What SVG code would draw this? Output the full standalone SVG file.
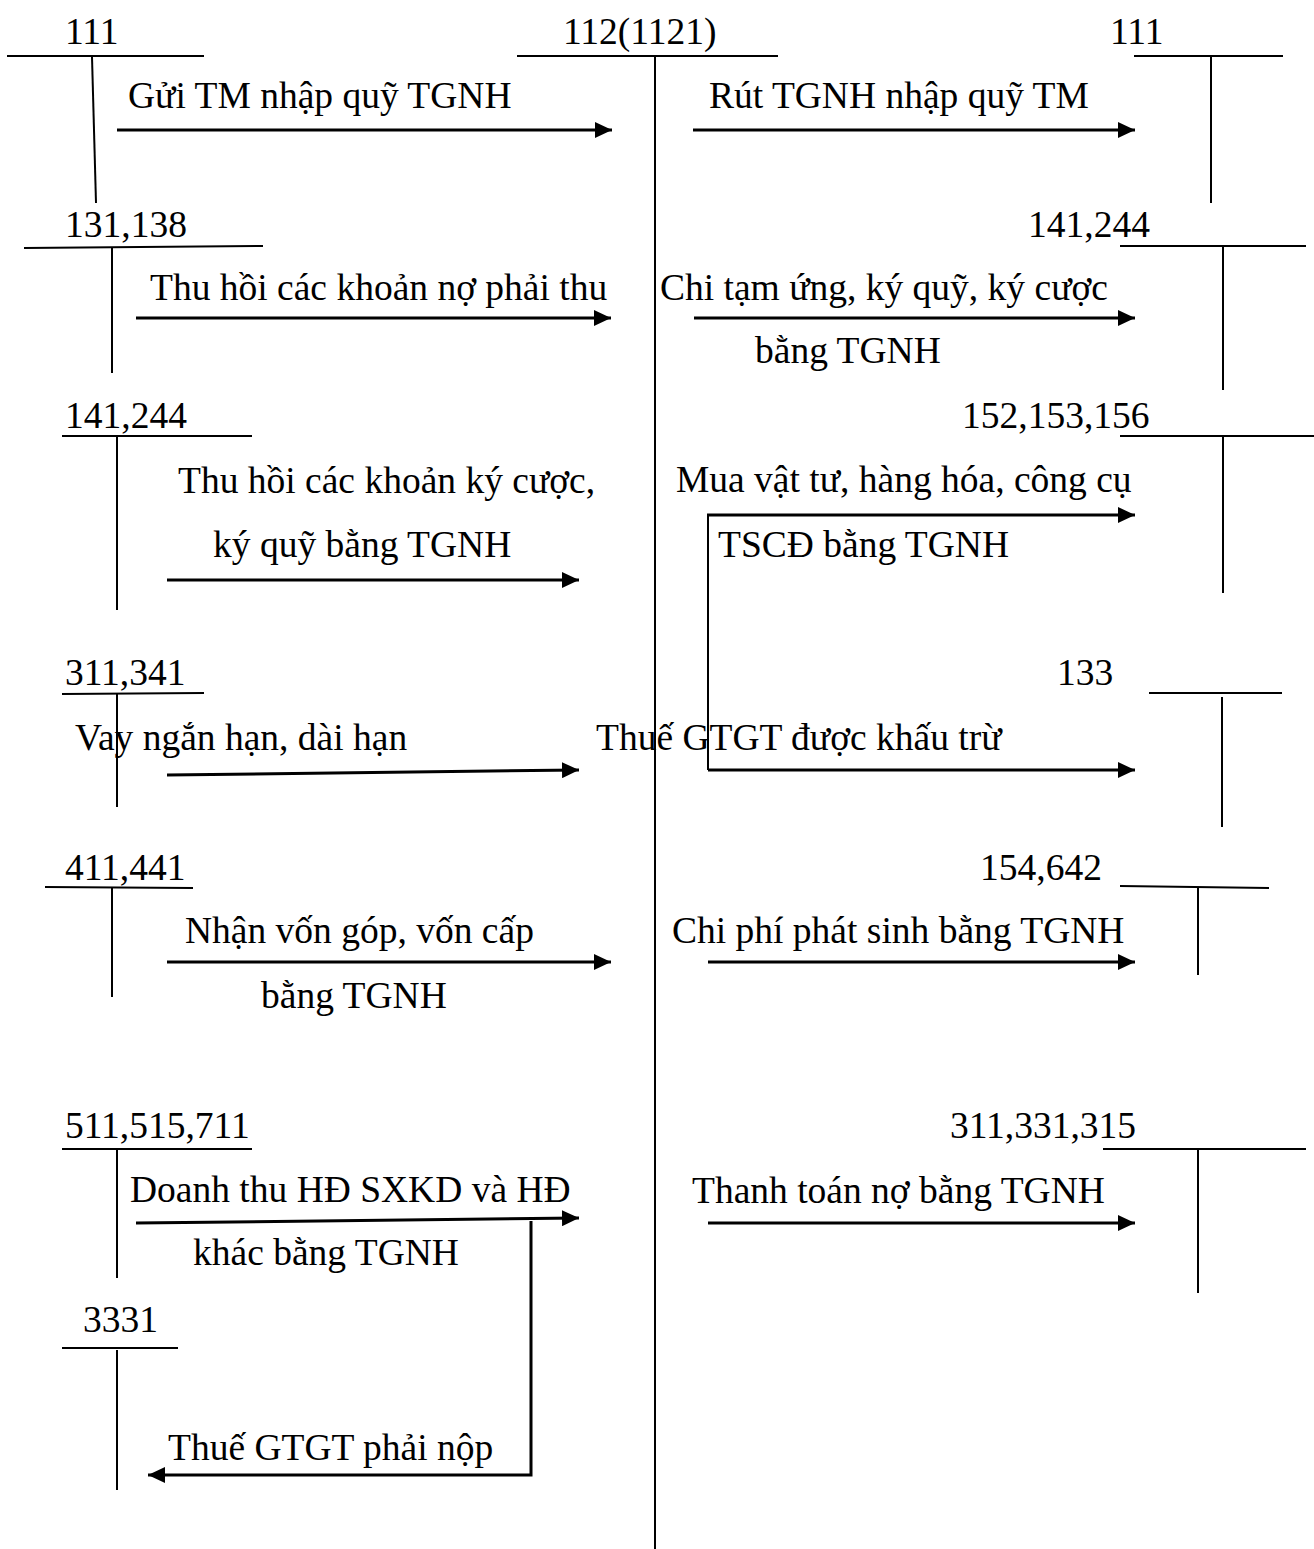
<svg xmlns="http://www.w3.org/2000/svg" width="1314" height="1549" viewBox="0 0 1314 1549">
<defs>
<marker id="ah" markerUnits="userSpaceOnUse" markerWidth="18" markerHeight="16" refX="17" refY="8" orient="auto">
<path d="M0,0 L17,8 L0,16 z" fill="#000"/>
</marker>
<style>
text{font-family:"Liberation Serif","Times New Roman",serif;font-size:37.5px;fill:#000}
.t{stroke:#000;stroke-width:2;fill:none}
.a{stroke:#000;stroke-width:3;fill:none;marker-end:url(#ah)}
.c{stroke:#000;stroke-width:2;fill:none}
</style>
</defs>
<rect width="1314" height="1549" fill="#fff"/>

<g id="acc-112">
<text x="563" y="44">112(1121)</text>
<line class="t" x1="517" y1="56" x2="778" y2="56"/>
<line class="t" x1="655" y1="56" x2="655" y2="1549"/>
</g>

<g id="acc-111-left">
<text x="65" y="44">111</text>
<line class="t" x1="7" y1="56" x2="204" y2="56"/>
<line class="t" x1="92" y1="57" x2="96" y2="203"/>
</g>
<g id="acc-111-right">
<text x="1110" y="44">111</text>
<line class="t" x1="1134" y1="56" x2="1283" y2="56"/>
<line class="t" x1="1211" y1="57" x2="1211" y2="203"/>
</g>
<g id="acc-131-138">
<text x="65" y="237">131,138</text>
<line class="t" x1="24" y1="248" x2="263" y2="246"/>
<line class="t" x1="112" y1="248" x2="112" y2="373"/>
</g>
<g id="acc-141-244-right">
<text x="1028" y="237">141,244</text>
<line class="t" x1="1120" y1="246" x2="1306" y2="246"/>
<line class="t" x1="1223" y1="247" x2="1223" y2="390"/>
</g>
<g id="acc-141-244-left">
<text x="65" y="428">141,244</text>
<line class="t" x1="62" y1="436" x2="252" y2="436"/>
<line class="t" x1="117" y1="436" x2="117" y2="610"/>
</g>
<g id="acc-152-153-156">
<text x="962" y="428">152,153,156</text>
<line class="t" x1="1120" y1="436" x2="1314" y2="436"/>
<line class="t" x1="1223" y1="436" x2="1223" y2="593"/>
</g>
<g id="acc-311-341">
<text x="65" y="685">311,341</text>
<line class="t" x1="62" y1="694" x2="204" y2="693"/>
<line class="t" x1="117" y1="694" x2="117" y2="807"/>
</g>
<g id="acc-133">
<text x="1057" y="685">133</text>
<line class="t" x1="1149" y1="693" x2="1282" y2="693"/>
<line class="t" x1="1222" y1="697" x2="1222" y2="827"/>
</g>
<g id="acc-411-441">
<text x="65" y="880">411,441</text>
<line class="t" x1="45" y1="887" x2="193" y2="888"/>
<line class="t" x1="112" y1="888" x2="112" y2="997"/>
</g>
<g id="acc-154-642">
<text x="980" y="880">154,642</text>
<line class="t" x1="1120" y1="886" x2="1269" y2="888"/>
<line class="t" x1="1198" y1="888" x2="1198" y2="975"/>
</g>
<g id="acc-511-515-711">
<text x="65" y="1138">511,515,711</text>
<line class="t" x1="62" y1="1149" x2="252" y2="1149"/>
<line class="t" x1="117" y1="1149" x2="117" y2="1278"/>
</g>
<g id="acc-311-331-315">
<text x="950" y="1138">311,331,315</text>
<line class="t" x1="1103" y1="1149" x2="1306" y2="1149"/>
<line class="t" x1="1198" y1="1150" x2="1198" y2="1293"/>
</g>
<g id="acc-3331">
<text x="83" y="1332">3331</text>
<line class="t" x1="62" y1="1348" x2="178" y2="1348"/>
<line class="t" x1="117" y1="1350" x2="117" y2="1490"/>
</g>

<g id="connectors">
<line class="a" x1="117" y1="130" x2="612" y2="130"/>
<line class="a" x1="693" y1="130" x2="1135" y2="130"/>
<line class="a" x1="136" y1="318" x2="611" y2="318"/>
<line class="a" x1="694" y1="318" x2="1135" y2="318"/>
<line class="a" x1="167" y1="580" x2="579" y2="580"/>
<path class="c" d="M708,770 L708,515"/>
<line class="a" x1="707" y1="515" x2="1135" y2="515"/>
<line class="a" x1="708" y1="770" x2="1135" y2="770"/>
<line class="a" x1="167" y1="775" x2="579" y2="770"/>
<line class="a" x1="167" y1="962" x2="611" y2="962"/>
<line class="a" x1="708" y1="962" x2="1135" y2="962"/>
<line class="a" x1="136" y1="1223" x2="579" y2="1218"/>
<path class="a" d="M531,1221 L531,1475 L148,1475"/>
<line class="a" x1="708" y1="1223" x2="1135" y2="1223"/>
</g>

<g id="labels">
<text x="128" y="108">Gửi TM nhập quỹ TGNH</text>
<text x="709" y="108">Rút TGNH nhập quỹ TM</text>
<text x="150" y="300">Thu hồi các khoản nợ phải thu</text>
<text x="660" y="300">Chi tạm ứng, ký quỹ, ký cược</text>
<text x="755" y="363">bằng TGNH</text>
<text x="178" y="493">Thu hồi các khoản ký cược,</text>
<text x="213" y="557">ký quỹ bằng TGNH</text>
<text x="676" y="492">Mua vật tư, hàng hóa, công cụ</text>
<text x="718" y="557">TSCĐ bằng TGNH</text>
<text x="75" y="750">Vay ngắn hạn, dài hạn</text>
<text x="596" y="750">Thuế GTGT được khấu trừ</text>
<text x="185" y="943">Nhận vốn góp, vốn cấp</text>
<text x="261" y="1008">bằng TGNH</text>
<text x="672" y="943">Chi phí phát sinh bằng TGNH</text>
<text x="130" y="1202">Doanh thu HĐ SXKD và HĐ</text>
<text x="193" y="1265">khác bằng TGNH</text>
<text x="692" y="1203">Thanh toán nợ bằng TGNH</text>
<text x="168" y="1460">Thuế GTGT phải nộp</text>
</g>
</svg>
